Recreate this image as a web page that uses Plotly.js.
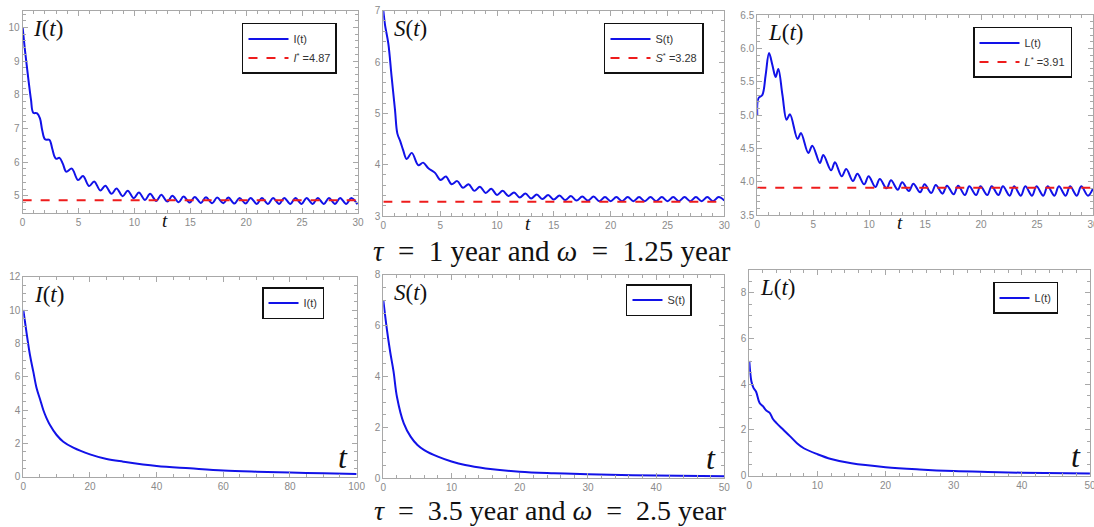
<!DOCTYPE html>
<html>
<head>
<meta charset="utf-8">
<script src="https://cdn.plot.ly/plotly-3.0.1.min.js"></script>
<style>html,body{margin:0;padding:0;background:#fff;}#chart{width:1094px;height:527px;}</style>
</head>
<body>
<div id="chart"></div>
<script>
// ---------- Row 1: tau = 1 year, omega = 1.25 year ----------
const tI1 = [0,0.25,0.5,0.75,0.95,1.3,1.55,1.75,2.0,2.4,2.65,2.85,3.0,3.3,3.6,3.9,4.4,4.95,5.4,5.95,6.4,6.95,7.4,7.95,8.4,8.95,9.4,9.95,10.4,10.95,11.4,11.95,12.4,12.95,13.4,13.95,14.4,14.95,15.4,15.95,16.4,16.95,17.4,17.95,18.4,18.95,19.4,19.95,20.4,20.95,21.4,21.95,22.4,22.95,23.4,23.95,24.4,24.95,25.4,25.95,26.4,26.95,27.4,27.95,28.4,28.95,29.4,29.95];
const vI1 = [10.0,9.2,8.5,7.85,7.47,7.45,7.3,6.95,6.68,6.66,6.4,6.17,6.1,6.13,5.95,5.72,5.81,5.47,5.59,5.29,5.43,5.16,5.3,5.06,5.22,4.99,5.15,4.93,5.1,4.88,5.06,4.85,5.03,4.83,5.0,4.81,4.98,4.8,4.97,4.79,4.96,4.78,4.95,4.78,4.95,4.77,4.94,4.77,4.94,4.76,4.94,4.76,4.94,4.76,4.94,4.76,4.94,4.76,4.94,4.76,4.94,4.76,4.94,4.76,4.94,4.76,4.94,4.75];
const tS1 = [0,0.15,0.44,0.73,1.03,1.23,1.5,1.75,2.05,2.5,3.08,3.5,3.96,4.55,5.04,5.5,6.0,6.5,7.0,7.5,8.0,8.5,9.0,9.5,10.0,10.5,11.0,11.5,12.0,12.5,13.0,13.5,14.0,14.5,15.0,15.5,16.0,16.5,17.0,17.5,18.0,18.5,19.0,19.5,20.0,20.5,21.0,21.5,22.0,22.5,23.0,23.5,24.0,24.5,25.0,25.5,26.0,26.5,27.0,27.5,28.0,28.5,29.0,29.5,30.0];
const vS1 = [7.0,6.72,6.36,5.71,5.06,4.61,4.45,4.28,4.11,4.23,3.99,4.04,3.93,3.84,3.70,3.77,3.62,3.68,3.55,3.62,3.49,3.57,3.45,3.53,3.41,3.49,3.39,3.46,3.36,3.44,3.34,3.42,3.33,3.41,3.32,3.40,3.31,3.39,3.30,3.38,3.30,3.38,3.29,3.37,3.29,3.37,3.29,3.37,3.29,3.37,3.29,3.37,3.29,3.37,3.29,3.37,3.29,3.37,3.29,3.37,3.29,3.37,3.29,3.37,3.30];
const tL1 = [0,0.1,0.45,0.75,1.05,1.35,1.64,1.88,2.25,2.62,2.92,3.6,3.9,4.56,4.92,5.6,5.9,6.6,6.94,7.55,7.95,8.55,8.95,9.55,9.95,10.55,10.95,11.55,11.95,12.55,12.95,13.55,13.95,14.55,14.95,15.55,15.95,16.55,16.95,17.55,17.95,18.55,18.95,19.55,19.95,20.55,20.95,21.55,21.95,22.55,22.95,23.55,23.95,24.55,24.95,25.55,25.95,26.55,26.95,27.55,27.95,28.55,28.95,29.55,30.0];
const vL1 = [5.0,5.25,5.3,5.6,5.93,5.75,5.57,5.69,5.3,4.93,5.01,4.64,4.73,4.43,4.54,4.28,4.4,4.17,4.29,4.08,4.19,4.01,4.12,3.96,4.08,3.92,4.04,3.9,4.02,3.88,3.99,3.86,3.97,3.84,3.96,3.83,3.95,3.82,3.94,3.81,3.94,3.80,3.93,3.80,3.93,3.80,3.93,3.80,3.93,3.79,3.93,3.79,3.93,3.79,3.93,3.79,3.93,3.79,3.93,3.79,3.93,3.79,3.93,3.79,3.9];
const eqT = [0, 30];
const Istar = 4.87, Sstar = 3.28, Lstar = 3.91;

// ---------- Row 2: tau = 3.5 year, omega = 2.5 year ----------
const tI2 = [0,1,2,3,4,5,6,7,8,10,12,15,20,25,30,40,50,60,70,80,90,100];
const vI2 = [10.0,8.6,7.3,6.3,5.3,4.66,4.0,3.5,3.1,2.5,2.1,1.74,1.34,1.06,0.9,0.64,0.5,0.37,0.3,0.25,0.2,0.16];
const tS2 = [0,0.5,1,1.5,2,3,4,5,6,8,10,12,15,20,25,30,40,50];
const vS2 = [7.0,5.9,4.98,4.2,3.2,2.16,1.64,1.31,1.11,0.85,0.66,0.52,0.39,0.26,0.2,0.16,0.11,0.08];
const tL2 = [0,0.3,0.6,1,1.5,2,2.5,3,3.5,4,5,6,7,8,10,12,15,20,25,30,35,40,50];
const vL2 = [5.02,4.14,3.85,3.67,3.19,3.04,2.85,2.75,2.47,2.3,2.01,1.72,1.42,1.2,0.94,0.73,0.54,0.37,0.27,0.2,0.16,0.13,0.1];

const caption1 = '<i>τ</i>&nbsp; = &nbsp;1 year and <i>ω</i>&nbsp; = &nbsp;1.25 year';
const caption2 = '<i>τ</i>&nbsp; = &nbsp;3.5 year and <i>ω</i>&nbsp; = &nbsp;2.5 year';

const BLUE = '#1212e8', RED = '#ee1c1c';
const FRAME = '#a8a8a8', TICKTXT = '#8a8a8a';

function line(x, y, name, xa, ya, lg) {
  return {x: x, y: y, name: name, type: 'scatter', mode: 'lines', xaxis: xa, yaxis: ya, legend: lg,
    line: {color: BLUE, width: 2, shape: 'spline', smoothing: 1}};
}
function eq(val, name, xa, ya, lg) {
  return {x: eqT, y: [val, val], name: name, type: 'scatter', mode: 'lines', xaxis: xa, yaxis: ya, legend: lg,
    line: {color: RED, width: 2, dash: 'dash'}};
}

const data = [
  line(tI1, vI1, 'I(t)', 'x', 'y', 'legend'),
  eq(Istar, '<i>I</i><sup>*</sup> =' + Istar.toFixed(2), 'x', 'y', 'legend'),
  line(tS1, vS1, 'S(t)', 'x2', 'y2', 'legend2'),
  eq(Sstar, '<i>S</i><sup>*</sup> =' + Sstar.toFixed(2), 'x2', 'y2', 'legend2'),
  line(tL1, vL1, 'L(t)', 'x3', 'y3', 'legend3'),
  eq(Lstar, '<i>L</i><sup>*</sup> =' + Lstar.toFixed(2), 'x3', 'y3', 'legend3'),
  line(tI2, vI2, 'I(t)', 'x4', 'y4', 'legend4'),
  line(tS2, vS2, 'S(t)', 'x5', 'y5', 'legend5'),
  line(tL2, vL2, 'L(t)', 'x6', 'y6', 'legend6')
];

function ax(domain, range, dtick, minorDtick, anchor, fmt) {
  const a = {domain: domain, range: range, dtick: dtick, tick0: 0, anchor: anchor,
    showline: true, linecolor: FRAME, linewidth: 1, mirror: 'allticks',
    ticks: 'inside', ticklen: 5, tickcolor: FRAME, tickwidth: 1,
    minor: {dtick: minorDtick, ticks: 'inside', ticklen: 3, tickcolor: FRAME, tickwidth: 1, showgrid: false},
    showgrid: false, zeroline: false, ticklabeloverflow: 'allow',
    tickfont: {family: 'Liberation Sans, Arial, sans-serif', size: 10, color: TICKTXT}};
  if (fmt) a.tickformat = fmt;
  return a;
}

const legBase = {bgcolor: '#ffffff', bordercolor: '#111', borderwidth: 1.5, xanchor: 'left', yanchor: 'top',
  font: {family: 'Liberation Sans, Arial, sans-serif', size: 11, color: '#333'}, tracegroupgap: 0};
function leg(x, y, w) { return Object.assign({}, legBase, {x: x, y: y, itemwidth: w}); }

const serif = 'Liberation Serif, DejaVu Serif, serif';
function fnLabel(txt, xr, yr) {
  return {text: txt, xref: xr + ' domain', yref: yr + ' domain', x: 0.025, y: 0.985, xanchor: 'left', yanchor: 'top',
    showarrow: false, font: {family: serif, size: 23, color: '#111'}};
}
function tTop(xr, yr) {
  return {text: '<i>t</i>', xref: xr, yref: yr + ' domain', x: 12.75, y: 0, xanchor: 'center', yanchor: 'top',
    yshift: 5, showarrow: false, font: {family: serif, size: 19, color: '#111'}};
}
function tBot(xr, yr) {
  return {text: '<i>t</i>', xref: xr + ' domain', yref: yr + ' domain', x: 0.96, y: 0.0, xanchor: 'center', yanchor: 'bottom',
    showarrow: false, font: {family: serif, size: 32, color: '#111'}};
}

const layout = {
  width: 1094, height: 527, autosize: false,
  margin: {l: 0, r: 0, t: 0, b: 0},
  paper_bgcolor: '#ffffff', plot_bgcolor: '#ffffff',
  hovermode: false,
  xaxis:  ax([0.0207, 0.3272], [0, 30], 5, 1, 'y'),
  yaxis:  ax([0.5964, 0.9797], [4.5, 10.5], 1, 0.2, 'x'),
  xaxis2: ax([0.3504, 0.6621], [0, 30], 5, 1, 'y2'),
  yaxis2: ax([0.5901, 0.9797], [3, 7], 1, 0.2, 'x2'),
  xaxis3: ax([0.6922, 0.9991], [0, 30], 5, 1, 'y3'),
  yaxis3: ax([0.5920, 0.9715], [3.5, 6.5], 0.5, 0.1, 'x3', '.1f'),
  xaxis4: ax([0.0213, 0.3260], [0, 100], 20, 5, 'y4'),
  yaxis4: ax([0.0955, 0.4750], [0, 12], 2, 0.5, 'x4'),
  xaxis5: ax([0.3504, 0.6621], [0, 50], 10, 2, 'y5'),
  yaxis5: ax([0.0924, 0.4782], [0, 8], 2, 0.5, 'x5'),
  xaxis6: ax([0.6849, 0.9963], [0, 50], 10, 2, 'y6'),
  yaxis6: ax([0.0974, 0.4877], [0, 9], 2, 0.5, 'x6'),
  legend:  leg(0.2212, 0.9564, 40),
  legend2: leg(0.5521, 0.9564, 40),
  legend3: leg(0.8894, 0.9488, 40),
  legend4: leg(0.2395, 0.4554, 30),
  legend5: leg(0.5722, 0.4611, 30),
  legend6: leg(0.9077, 0.4649, 30),
  annotations: [
    fnLabel('<i>I</i>(<i>t</i>)', 'x', 'y'),
    fnLabel('<i>S</i>(<i>t</i>)', 'x2', 'y2'),
    fnLabel('<i>L</i>(<i>t</i>)', 'x3', 'y3'),
    fnLabel('<i>I</i>(<i>t</i>)', 'x4', 'y4'),
    fnLabel('<i>S</i>(<i>t</i>)', 'x5', 'y5'),
    fnLabel('<i>L</i>(<i>t</i>)', 'x6', 'y6'),
    tTop('x', 'y'), tTop('x2', 'y2'), tTop('x3', 'y3'),
    tBot('x4', 'y4'), tBot('x5', 'y5'), tBot('x6', 'y6'),
    {text: caption1, xref: 'paper', yref: 'paper', x: 0.5045, y: 0.524, xanchor: 'center', yanchor: 'middle',
      showarrow: false, font: {family: serif, size: 29, color: '#111'}},
    {text: caption2, xref: 'paper', yref: 'paper', x: 0.5035, y: 0.0, xanchor: 'center', yanchor: 'bottom',
      showarrow: false, borderpad: 0, font: {family: serif, size: 28, color: '#111'}}
  ]
};

Plotly.newPlot('chart', data, layout, {staticPlot: true, displayModeBar: false});
</script>
</body>
</html>
